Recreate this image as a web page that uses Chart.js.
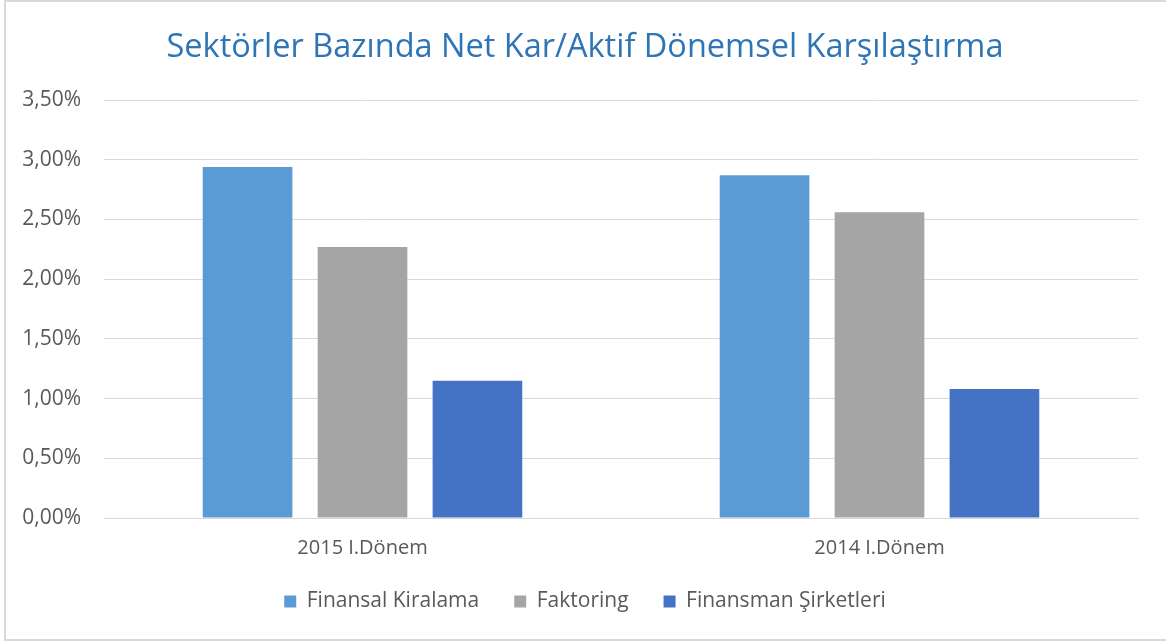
<!DOCTYPE html>
<html>
<head>
<meta charset="utf-8">
<script src="https://cdn.jsdelivr.net/npm/chart.js@4/dist/chart.umd.min.js"></script>
<style>
    html, body { margin: 0; padding: 0; background: #ffffff; overflow: hidden; }
    .chart-frame { position: absolute; left: 4px; top: 0; width: 1170px; height: 637px; border: 2px solid #d9d9d9; }
    .canvas-container { position: absolute; left: 0; top: 0; width: 1166px; height: 642px; }
</style>
</head>
<body>
<div class="chart-frame"></div>
<div class="canvas-container"><canvas id="barChart" width="1166" height="642"></canvas></div>
<script>
const chartTitle = "Sektörler Bazında Net Kar/Aktif Dönemsel Karşılaştırma";
const periods = ["2015 I.Dönem", "2014 I.Dönem"];
const seriesNames = ["Finansal Kiralama", "Faktoring", "Finansman Şirketleri"];
const finansalKiralama = [2.94, 2.87];
const faktoring = [2.27, 2.56];
const finansmanSirketleri = [1.15, 1.08];
const yTicks = [0, 0.5, 1, 1.5, 2, 2.5, 3, 3.5];

const seriesColors = ["#5b9bd5", "#a5a5a5", "#4472c4"];
const textColor = "#595959";
const gridColor = "#d9d9d9";
const fontFamily = "'Open Sans', 'Noto Sans', sans-serif";

let barChartCanvas = document.getElementById("barChart");

function formatPercent(value) {
    return value.toFixed(2).replace(".", ",") + "%";
}

let currentChart = new Chart(barChartCanvas, {
    type: "bar",
    data: {
        labels: periods,
        datasets: [
            { label: seriesNames[0], data: finansalKiralama, backgroundColor: seriesColors[0] },
            { label: seriesNames[1], data: faktoring, backgroundColor: seriesColors[1] },
            { label: seriesNames[2], data: finansmanSirketleri, backgroundColor: seriesColors[2] },
        ],
    },
    options: {
        responsive: false,
        animation: false,
        devicePixelRatio: 1,
        categoryPercentage: 0.667,
        barPercentage: 0.78,
        layout: {
            autoPadding: false,
            padding: { left: 4, right: 0, top: 0, bottom: 20 },
        },
        plugins: {
            title: {
                display: true,
                text: chartTitle,
                color: "#2e75b6",
                font: { family: fontFamily, size: 32.5, weight: "normal" },
                padding: { top: 28.5, bottom: 32.5 },
            },
            legend: {
                position: "bottom",
                labels: {
                    color: textColor,
                    font: { family: fontFamily, size: 21 },
                    boxWidth: 12,
                    boxHeight: 12,
                    padding: 35,
                },
            },
            tooltip: { enabled: false },
        },
        scales: {
            x: {
                grid: { display: false, drawTicks: false },
                border: { display: true, color: gridColor, width: 1 },
                ticks: {
                    color: textColor,
                    font: { family: fontFamily, size: 20 },
                    padding: 18,
                },
                afterFit(scale) {
                    scale.height = 38;
                },
            },
            y: {
                min: yTicks[0],
                max: yTicks[yTicks.length - 1],
                grid: { color: gridColor, lineWidth: 1, drawTicks: false },
                border: { display: false },
                afterBuildTicks(scale) {
                    scale.ticks = yTicks.map(v => ({ value: v }));
                },
                ticks: {
                    color: textColor,
                    font: { family: fontFamily, size: 21 },
                    padding: 23,
                    callback: function(value) {
                        return formatPercent(value);
                    },
                },
                afterFit(scale) {
                    scale.width = 100;
                },
            },
            // empty right-hand margin so the title and legend centre on the whole frame
            yRight: {
                position: "right",
                grid: { display: false, drawTicks: false },
                border: { display: false },
                ticks: { display: false },
                afterFit(scale) {
                    scale.width = 28;
                },
            },
        },
    },
});
</script>
</body>
</html>
